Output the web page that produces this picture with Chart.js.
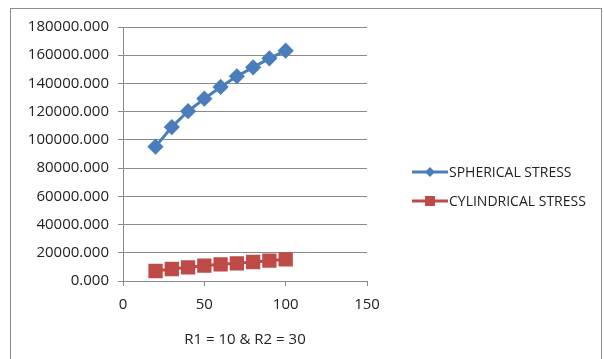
<!DOCTYPE html>
<html>
<head>
<meta charset="utf-8">
<script src="https://cdn.jsdelivr.net/npm/chart.js@4.4.0/dist/chart.umd.min.js"></script>
<style>
  html, body { margin: 0; padding: 0; background: #fff; }
  #wrap { width: 604px; height: 359px; }
</style>
</head>
<body>
<div id="wrap"><canvas id="chart" width="604" height="359"></canvas></div>
<script>
// data
const xValues = [20, 30, 40, 50, 60, 70, 80, 90, 100];
const sphericalStress = [95200, 109100, 120300, 129200, 137500, 145100, 151400, 157800, 163200];
const cylindricalStress = [7100, 8500, 9700, 10850, 11800, 12540, 13460, 14390, 15370];
const seriesNames = ['SPHERICAL STRESS', 'CYLINDRICAL STRESS'];
const xTitle = 'R1 = 10 & R2 = 30';

const FONT = "'Open Sans', sans-serif";
const blue = '#4a7ebb';
const red = '#be4b48';
const gridGray = '#8a8a8a';

function toPoints(vals) {
    return xValues.map((x, i) => ({ x: x, y: vals[i] }));
}

// frame around the whole chart, like the spreadsheet chart box
const framePlugin = {
    id: 'frame',
    beforeDraw(chart) {
        const ctx = chart.ctx;
        ctx.save();
        ctx.strokeStyle = '#8c8c8c';
        ctx.lineWidth = 1;
        ctx.strokeRect(10.5, 8.5, 591, 360);
        ctx.restore();
    }
};

// legend with line + marker, drawn to the right of the plot
const lineLegend = {
    id: 'lineLegend',
    afterDraw(chart) {
        const ctx = chart.ctx;
        ctx.save();
        ctx.font = '14px ' + FONT;
        ctx.textBaseline = 'middle';
        chart.data.datasets.forEach((ds, i) => {
            const y = 172 + i * 29;
            ctx.strokeStyle = ds.borderColor;
            ctx.lineWidth = 3;
            ctx.beginPath();
            ctx.moveTo(412, y);
            ctx.lineTo(448, y);
            ctx.stroke();
            ctx.fillStyle = ds.borderColor;
            ctx.beginPath();
            if (ds.pointStyle === 'rect') {
                ctx.rect(425, y - 5, 10, 10);
            } else {
                ctx.moveTo(430, y - 5);
                ctx.lineTo(435, y);
                ctx.lineTo(430, y + 5);
                ctx.lineTo(425, y);
                ctx.closePath();
            }
            ctx.fill();
            ctx.fillStyle = '#222';
            ctx.fillText(ds.label, 449, y + 1);
        });
        ctx.restore();
    }
};

new Chart(document.getElementById('chart'), {
    type: 'scatter',
    data: {
        datasets: [{
            label: seriesNames[0],
            data: toPoints(sphericalStress),
            showLine: true,
            borderColor: blue,
            backgroundColor: blue,
            borderWidth: 3,
            pointStyle: 'rectRot',
            pointRadius: 6,
            pointHoverRadius: 6
        }, {
            label: seriesNames[1],
            data: toPoints(cylindricalStress),
            showLine: true,
            borderColor: red,
            backgroundColor: red,
            borderWidth: 3,
            pointStyle: 'rect',
            pointRadius: 8,
            pointHoverRadius: 8
        }]
    },
    options: {
        responsive: false,
        animation: false,
        layout: { padding: { left: 0, right: 237, top: 27, bottom: 10 } },
        plugins: {
            legend: { display: false },
            tooltip: { enabled: false }
        },
        scales: {
            x: {
                type: 'linear',
                min: 0,
                max: 150,
                ticks: { stepSize: 50, color: '#222', font: { family: FONT, size: 15 }, padding: 10 },
                grid: { drawOnChartArea: false, drawTicks: true, tickLength: 5, color: gridGray },
                border: { color: gridGray },
                title: { display: true, text: xTitle, color: '#222', font: { family: FONT, size: 15 }, padding: { top: 0, bottom: 0 } },
                afterFit(scale) { scale.height = 68; }
            },
            y: {
                min: 0,
                max: 180000,
                ticks: {
                    stepSize: 20000,
                    color: '#222',
                    font: { family: FONT, size: 15 },
                    padding: 9,
                    callback: v => v.toFixed(3)
                },
                grid: { color: gridGray, tickLength: 5 },
                border: { color: gridGray },
                afterFit(scale) { scale.width = 123; }
            }
        }
    },
    plugins: [framePlugin, lineLegend]
});
</script>
</body>
</html>
